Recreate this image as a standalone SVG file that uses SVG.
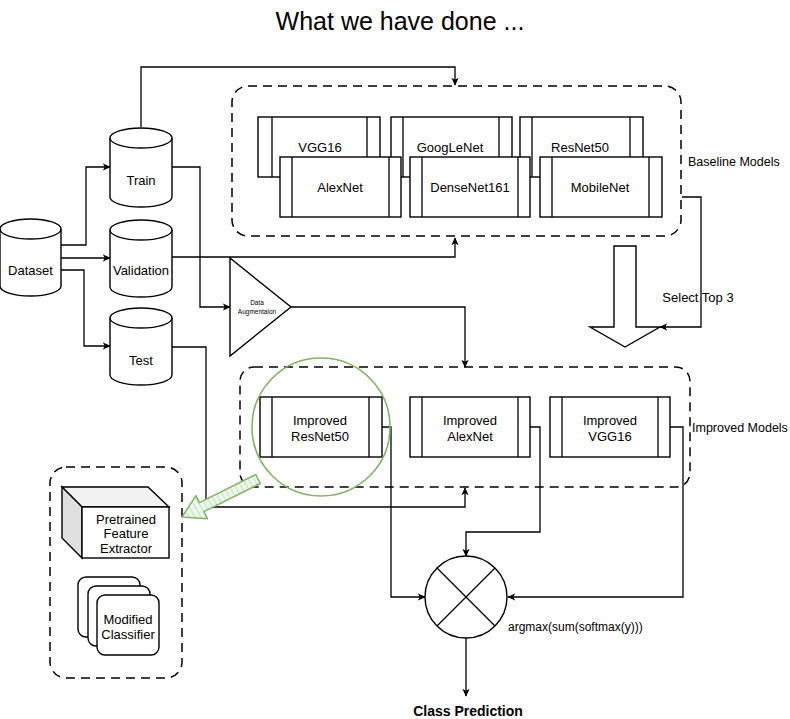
<svg xmlns="http://www.w3.org/2000/svg" width="790" height="719" viewBox="0 0 790 719">
<defs>
<marker id="arr" viewBox="0 0 10 10" refX="9" refY="5" markerWidth="8" markerHeight="8" markerUnits="userSpaceOnUse" orient="auto">
<path d="M0,0.5 L10,5 L0,9.5 L2.5,5 z" fill="#000"/>
</marker>
<pattern id="hatch" width="5" height="5" patternUnits="userSpaceOnUse" patternTransform="rotate(-30)">
<rect width="5" height="5" fill="#eef6ec"/>
<line x1="0" y1="0" x2="0" y2="5" stroke="#c3e0bd" stroke-width="2"/>
</pattern>
<style>
text{font-family:"Liberation Sans","DejaVu Sans",sans-serif;fill:#000;}
.lbl{font-size:13px;text-anchor:middle;}
.side{font-size:12.5px;}
.shape{fill:#fff;stroke:#000;stroke-width:1.4;}
.line{fill:none;stroke:#000;stroke-width:1.3;}
.dash{fill:none;stroke:#000;stroke-width:1.5;stroke-dasharray:9 6;}
.conn{fill:none;stroke:#000;stroke-width:1.3;marker-end:url(#arr);}
</style>
</defs>
<rect width="790" height="719" fill="#fff"/>
<text x="400" y="30" style="font-size:25px;text-anchor:middle">What we have done ...</text>

<g id="baseline-group">
<rect x="232" y="86" width="449" height="150" rx="16" class="dash"/>
<text x="688" y="166" class="side">Baseline Models</text>
</g>
<g id="improved-group">
<rect x="240" y="367" width="450" height="120" rx="14" class="dash"/>
<text x="692" y="432" class="side">Improved Models</text>
</g>
<g id="classifier-group">
<rect x="50" y="467" width="132" height="211" rx="16" class="dash"/>
</g>

<g id="connectors">
<path d="M141,127 V67 H455 V85" class="conn"/>
<path d="M61,245 H86 V167 H110" class="conn"/>
<path d="M61,258 H110" class="conn"/>
<path d="M61,270 H84 V346 H110" class="conn"/>
<path d="M172,167 H200 V307 H230" class="conn"/>
<path d="M172,257 H455 V238" class="conn"/>
<path d="M172,347 H206 V507 H465 V488" class="conn"/>
<path d="M291,307 H465 V367" class="conn"/>
<path d="M682,197 H701 V327 H660" class="conn"/>
<path d="M382,427 H391 V597 H425" class="conn"/>
<path d="M530,427 H540 V532 H466 V556" class="conn"/>
<path d="M670,427 H683 V597 H508" class="conn"/>
<path d="M466,638 V696" class="conn"/>
</g>

<g id="dataset">
<path d="M0,229 a30.5,10 0 0,1 61,0 v57 a30.5,10 0 0,1 -61,0 z" class="shape"/>
<path d="M0,229 a30.5,10 0 0,0 61,0" class="line"/>
<text x="30.5" y="275" class="lbl">Dataset</text>
</g>
<g id="train">
<path d="M110,138 a31,10 0 0,1 62,0 v59 a31,10 0 0,1 -62,0 z" class="shape"/>
<path d="M110,138 a31,10 0 0,0 62,0" class="line"/>
<text x="141" y="185" class="lbl">Train</text>
</g>
<g id="validation">
<path d="M110,230 a31,10 0 0,1 62,0 v57 a31,10 0 0,1 -62,0 z" class="shape"/>
<path d="M110,230 a31,10 0 0,0 62,0" class="line"/>
<text x="141" y="275" class="lbl">Validation</text>
</g>
<g id="test">
<path d="M110,318 a31,10 0 0,1 62,0 v57 a31,10 0 0,1 -62,0 z" class="shape"/>
<path d="M110,318 a31,10 0 0,0 62,0" class="line"/>
<text x="141" y="365" class="lbl">Test</text>
</g>

<g id="data-augmentation">
<path d="M230,258 L291,307 L230,356 z" class="shape"/>
<text x="257" y="305" style="font-size:6.5px;text-anchor:middle">Data</text>
<text x="257" y="314" style="font-size:6.5px;text-anchor:middle">Augmentaion</text>
</g>

<g id="vgg16">
<rect x="258" y="117" width="122" height="60" class="shape"/>
<path d="M272,117 V177 M367,117 V177" class="line"/>
<text x="320" y="152" class="lbl">VGG16</text>
</g>
<g id="googlenet">
<rect x="391" y="117" width="121" height="60" class="shape"/>
<path d="M403,117 V177 M499,117 V177" class="line"/>
<text x="450" y="152" class="lbl">GoogLeNet</text>
</g>
<g id="resnet50">
<rect x="520" y="117" width="123" height="60" class="shape"/>
<path d="M532,117 V177 M630,117 V177" class="line"/>
<text x="580" y="152" class="lbl">ResNet50</text>
</g>
<g id="alexnet">
<rect x="280" y="157" width="121" height="60" class="shape"/>
<path d="M292,157 V217 M389,157 V217" class="line"/>
<text x="340" y="192" class="lbl">AlexNet</text>
</g>
<g id="densenet161">
<rect x="410" y="157" width="120" height="60" class="shape"/>
<path d="M422,157 V217 M518,157 V217" class="line"/>
<text x="470" y="192" class="lbl">DenseNet161</text>
</g>
<g id="mobilenet">
<rect x="540" y="157" width="122" height="60" class="shape"/>
<path d="M552,157 V217 M649,157 V217" class="line"/>
<text x="600" y="192" class="lbl">MobileNet</text>
</g>

<g id="select-top-3">
<path d="M614,246 H636 V327 H660 L625,347 L590,327 H614 z" class="shape"/>
<text x="698" y="302" class="lbl">Select Top 3</text>
</g>

<g id="improved-resnet50">
<rect x="260" y="397" width="122" height="60" class="shape"/>
<path d="M272,397 V457 M369,397 V457" class="line"/>
<text x="320" y="425" class="lbl">Improved</text>
<text x="320" y="441" class="lbl">ResNet50</text>
</g>
<g id="improved-alexnet">
<rect x="410" y="397" width="120" height="60" class="shape"/>
<path d="M422,397 V457 M518,397 V457" class="line"/>
<text x="470" y="425" class="lbl">Improved</text>
<text x="470" y="441" class="lbl">AlexNet</text>
</g>
<g id="improved-vgg16">
<rect x="550" y="397" width="120" height="60" class="shape"/>
<path d="M562,397 V457 M658,397 V457" class="line"/>
<text x="610" y="425" class="lbl">Improved</text>
<text x="610" y="441" class="lbl">VGG16</text>
</g>

<g id="highlight">
<circle cx="321" cy="427" r="69" fill="none" stroke="#82b366" stroke-width="1.6"/>
<polygon points="255.8,474.5 199.5,502.7 195.9,495.6 182,517 207.5,518.8 203.9,511.7 260.2,483.5" fill="url(#hatch)" stroke="#82b366" stroke-width="1.5" stroke-linejoin="round"/>
</g>

<g id="pretrained-feature-extractor">
<polygon points="62,487 148,487 169,507 82,507" fill="#f2f2f2" stroke="#000" stroke-width="1.4"/>
<polygon points="62,487 82,507 82,558 62,538" fill="#e0e0e0" stroke="#000" stroke-width="1.4"/>
<rect x="82" y="507" width="87" height="51" class="shape"/>
<text x="126" y="524" class="lbl">Pretrained</text>
<text x="126" y="538" class="lbl">Feature</text>
<text x="126" y="553" class="lbl">Extractor</text>
</g>

<g id="modified-classifier">
<rect x="78" y="577" width="62" height="60" rx="8" class="shape"/>
<rect x="88" y="586" width="62" height="60" rx="8" class="shape"/>
<rect x="97" y="595" width="62" height="60" rx="8" class="shape"/>
<text x="128" y="624" class="lbl">Modified</text>
<text x="128" y="639" class="lbl">Classifier</text>
</g>

<g id="ensemble">
<circle cx="466" cy="597" r="41" class="shape"/>
<path d="M437,568 L495,626 M495,568 L437,626" class="line"/>
<text x="508" y="631" style="font-size:12px">argmax(sum(softmax(y)))</text>
</g>

<g id="class-prediction">
<text x="468" y="716" style="font-size:14px;font-weight:bold;text-anchor:middle">Class Prediction</text>
</g>
</svg>
